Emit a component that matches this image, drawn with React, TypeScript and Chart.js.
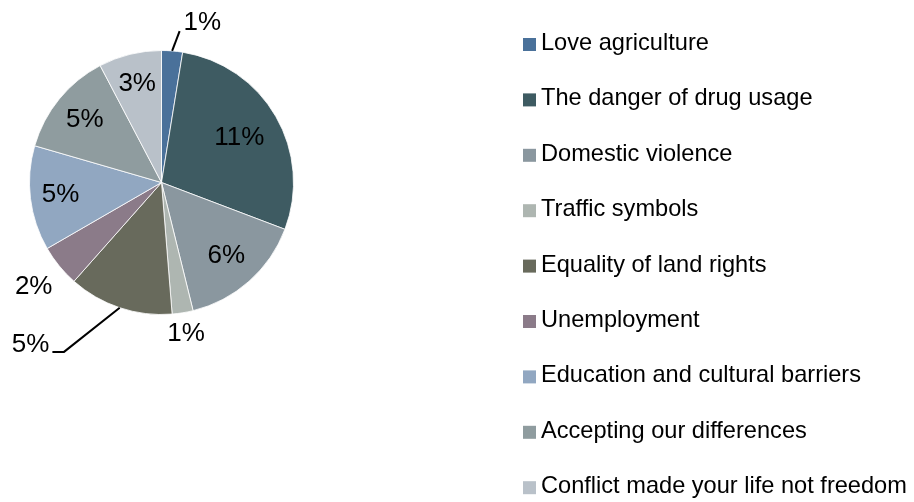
import { useEffect, useRef } from 'react';
import { Chart, registerables } from 'chart.js';

Chart.register(...registerables);

const categories = [
  'Love agriculture',
  'The danger of drug usage',
  'Domestic violence',
  'Traffic symbols',
  'Equality of land rights',
  'Unemployment',
  'Education and cultural barriers',
  'Accepting our differences',
  'Conflict made your life not freedom',
];
const values = [1, 11, 6, 1, 5, 2, 5, 5, 3];
const valueLabels = ['1%', '11%', '6%', '1%', '5%', '2%', '5%', '5%', '3%'];
const sliceColors = [
  '#4A719A',
  '#3E5B62',
  '#8A979F',
  '#AEB6B1',
  '#686A5C',
  '#8B7B89',
  '#91A7C1',
  '#8F9C9F',
  '#B9C1C9',
];

type Placement =
  | { kind: 'radial'; r: number }
  | { kind: 'leader'; dx: number; dy: number; hx: number; align: 'left' | 'right' };

const labelPlacement: Placement[] = [
  { kind: 'leader', dx: 7.5, dy: -19.9, hx: 0, align: 'left' },
  { kind: 'radial', r: 0.68 },
  { kind: 'radial', r: 0.74 },
  { kind: 'radial', r: 1.16 },
  { kind: 'leader', dx: -55.7, dy: 44.2, hx: -11.6, align: 'right' },
  { kind: 'radial', r: 1.25 },
  { kind: 'radial', r: 0.77 },
  { kind: 'radial', r: 0.75 },
  { kind: 'radial', r: 0.77 },
];

const FONT = '"Liberation Sans", Arial, sans-serif';
const LEGEND = { x: 515, y0: 36.5, step: 55.4, box: 13, gap: 5, size: 23.6 };
const CANVAS_W = 906;
const CANVAS_H = 494;

const sliceLabelPlugin = {
  id: 'sliceLabels',
  afterDatasetsDraw(chart: any) {
    const ctx = chart.ctx as CanvasRenderingContext2D;
    const meta = chart.getDatasetMeta(0);
    ctx.save();
    ctx.font = `26px ${FONT}`;
    ctx.fillStyle = '#000';
    ctx.strokeStyle = '#000';
    ctx.lineWidth = 2;
    meta.data.forEach((arc: any, i: number) => {
      const { x, y, startAngle, endAngle, outerRadius } = arc.getProps(
        ['x', 'y', 'startAngle', 'endAngle', 'outerRadius'],
        true
      );
      const mid = (startAngle + endAngle) / 2;
      const p = labelPlacement[i];
      const text = valueLabels[i];
      if (p.kind === 'radial') {
        const px = x + Math.cos(mid) * outerRadius * p.r;
        const py = y + Math.sin(mid) * outerRadius * p.r;
        ctx.textAlign = 'center';
        ctx.textBaseline = 'middle';
        ctx.fillText(text, px, py);
      } else {
        const ex = x + Math.cos(mid) * outerRadius;
        const ey = y + Math.sin(mid) * outerRadius;
        const bx = ex + p.dx;
        const by = ey + p.dy;
        const endX = bx + p.hx;
        ctx.beginPath();
        ctx.moveTo(ex, ey);
        ctx.lineTo(bx, by);
        ctx.lineTo(endX, by);
        ctx.stroke();
        ctx.textBaseline = 'alphabetic';
        if (p.align === 'left') {
          ctx.textAlign = 'left';
          ctx.fillText(text, endX + 4, by - 1);
        } else {
          ctx.textAlign = 'right';
          ctx.fillText(text, endX - 3, by);
        }
      }
    });
    ctx.restore();
  },
};

const legendPlugin = {
  id: 'sideLegend',
  afterDraw(chart: any) {
    const ctx = chart.ctx as CanvasRenderingContext2D;
    const labels: string[] = chart.data.labels;
    const colors: string[] = chart.data.datasets[0].backgroundColor;
    ctx.save();
    ctx.font = `${LEGEND.size}px ${FONT}`;
    ctx.textAlign = 'left';
    ctx.textBaseline = 'middle';
    labels.forEach((label, i) => {
      const cy = LEGEND.y0 + i * LEGEND.step;
      ctx.fillStyle = colors[i];
      ctx.fillRect(LEGEND.x, cy - LEGEND.box / 2, LEGEND.box, LEGEND.box);
      ctx.fillStyle = '#000';
      ctx.fillText(label, LEGEND.x + LEGEND.box + LEGEND.gap, cy - 1);
    });
    ctx.restore();
  },
};

export default function App() {
  const canvasRef = useRef<HTMLCanvasElement | null>(null);

  useEffect(() => {
    if (!canvasRef.current) return;
    const chart = new Chart(canvasRef.current, {
      type: 'pie',
      data: {
        labels: categories,
        datasets: [
          {
            data: values,
            backgroundColor: sliceColors,
            borderColor: '#ffffff',
            borderWidth: 0.8,
          },
        ],
      },
      options: {
        animation: false,
        responsive: false,
        maintainAspectRatio: false,
        devicePixelRatio: 1,
        radius: 132,
        layout: { padding: { left: 0, top: 0, right: CANVAS_W - 307, bottom: CANVAS_H - 349 } },
        plugins: {
          legend: { display: false },
          tooltip: { enabled: false },
          title: { display: false },
        },
      } as any,
      plugins: [sliceLabelPlugin, legendPlugin],
    });
    return () => chart.destroy();
  }, []);

  return (
    <div style={{ width: `${CANVAS_W}px`, height: `${CANVAS_H}px` }}>
      <canvas
        ref={canvasRef}
        width={CANVAS_W}
        height={CANVAS_H}
        style={{ display: 'block', width: `${CANVAS_W}px`, height: `${CANVAS_H}px` }}
      />
    </div>
  );
}
